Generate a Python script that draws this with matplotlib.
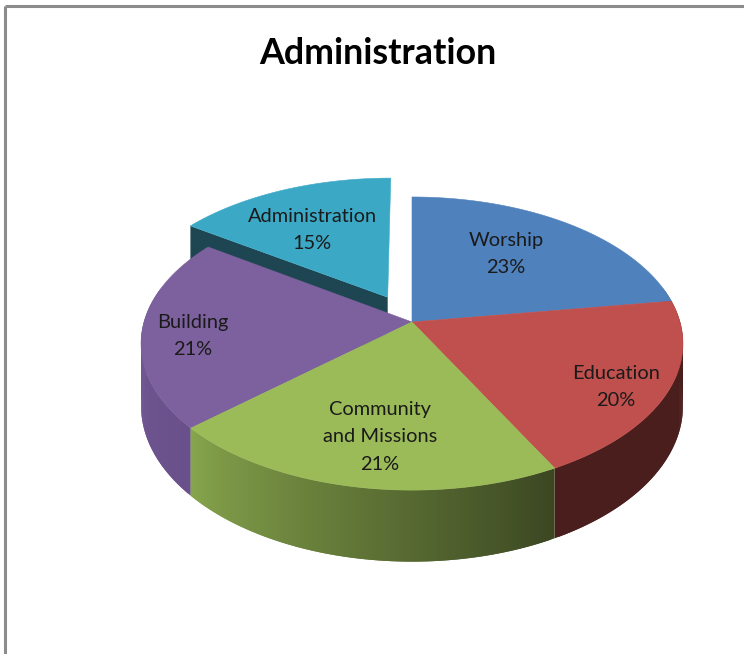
import numpy as np
from matplotlib import pyplot as plt
from matplotlib.patches import Polygon

# Chart data
categories = ['Worship', 'Education', 'Community\nand Missions', 'Building', 'Administration']
shares = [22.6, 19.7, 21.0, 21.2, 15.4]
top_colors = ['#4F81BD', '#C0504D', '#9BBB59', '#7D619E', '#3BA9C6']
side_left = ['#2A4A70', '#4A1E1C', '#86A54C', '#7A5E9A', '#1E4552']
side_right = ['#2A4A70', '#4A1E1C', '#3C4722', '#69508A', '#1E4552']
exploded = [0, 0, 0, 0, 0.2]
label_x = [506, 616, 380, 193, 312]
label_y = [254, 387, 437, 336, 230]

# Pie geometry in picture pixels, with perspective
CX, CY = 412, 322
RX, RY = 268, 143.4
PERSP = 0.147
DEPTH = 61


def project(u, v, drop=0.0):
    s = 1 / (1 + PERSP * np.asarray(v))
    return CX + RX * np.asarray(u) * s, CY - RY * np.asarray(v) * s + DEPTH * s * drop


def mix(c1, c2, t):
    a = np.array(plt.matplotlib.colors.to_rgb(c1))
    b = np.array(plt.matplotlib.colors.to_rgb(c2))
    return tuple(a + (b - a) * t)


fig = plt.figure(figsize=(7.44, 6.54), dpi=100)
ax = fig.add_axes([0, 0, 1, 1])
ax.set_xlim(0, 744)
ax.set_ylim(654, 0)
ax.axis('off')

# Chart frame
ax.plot([5, 5], [654, 6], color='#8C8C8C', lw=2.2, solid_capstyle='butt')
ax.plot([5, 744], [6, 6], color='#8C8C8C', lw=2.2, solid_capstyle='butt')

edges = np.cumsum([0] + shares) / sum(shares) * 2 * np.pi

# Back to front: exploded slice first, so the rest covers its lower side
order = [4, 3, 0, 1, 2]
for i in order:
    th = np.linspace(edges[i], edges[i + 1], 90)
    mid = (edges[i] + edges[i + 1]) / 2
    ox, oy = exploded[i] * np.sin(mid), exploded[i] * np.cos(mid)
    u, v = np.sin(th) + ox, np.cos(th) + oy

    # straight cut faces, only the exploded slice shows one
    if exploded[i] > 0:
        xa, ya = project(ox, oy)
        xb, yb = project(ox, oy, 1)
        x0, y0 = project(u[0], v[0])
        x1, y1 = project(u[0], v[0], 1)
        ax.add_patch(Polygon([(x0, y0), (xa, ya), (xb, yb), (x1, y1)], fc=side_left[i], ec='none', zorder=2))

    # outer wall in strips for the gradient, each one runs over the next to hide seams
    keep = np.where(np.cos(th) < 0.25)[0]
    if i == 1:
        keep = keep[::-1]
    for n, k in enumerate(keep[:-1]):
        a = keep[n:n + 3]
        x0, y0 = project(u[a], v[a])
        x1, y1 = project(u[a], v[a], 1)
        c = mix(side_left[i], side_right[i], 1 - k / (len(th) - 1))
        pts = np.column_stack([np.r_[x0, x1[::-1]], np.r_[y0, y1[::-1]]])
        ax.add_patch(Polygon(pts, fc=c, ec='none', zorder=3))

# Top faces in a second pass
for i in order:
    th = np.linspace(edges[i], edges[i + 1], 120)
    mid = (edges[i] + edges[i + 1]) / 2
    ox, oy = exploded[i] * np.sin(mid), exploded[i] * np.cos(mid)
    x, y = project(np.sin(th) + ox, np.cos(th) + oy)
    xa, ya = project(ox, oy)
    pts = np.column_stack([np.r_[xa, x], np.r_[ya, y]])
    ax.add_patch(Polygon(pts, fc=top_colors[i], ec=top_colors[i], lw=0.4, zorder=4 if exploded[i] > 0 else 5))

for name, share, lx, ly in zip(categories, shares, label_x, label_y):
    ax.text(lx, ly, f'{name}\n{share:.0f}%', ha='center', va='center', fontsize=14.4,
            family='Lato', color='#1A1A1A', linespacing=1.75, zorder=6)

ax.text(378, 53, 'Administration', ha='center', va='center', fontsize=25.8,
        family='Lato', fontweight='bold', color='black')

fig.savefig('out.png', dpi=100)
